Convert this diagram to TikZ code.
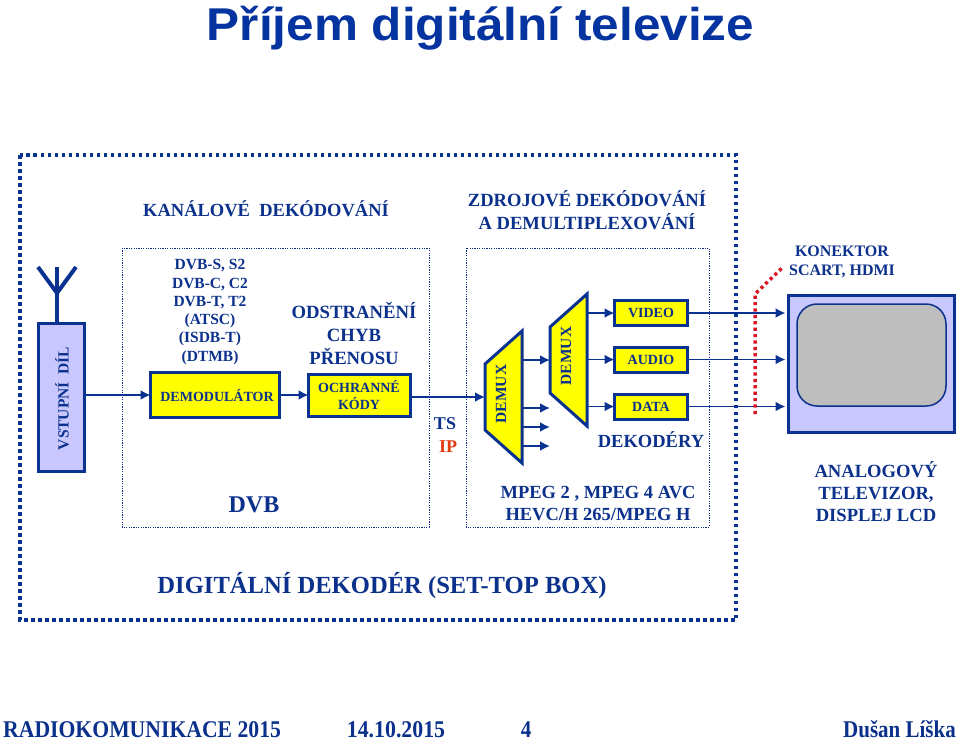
\documentclass[tikz,border=0pt]{standalone}
\usepackage{fontspec}
\setmainfont{Liberation Serif}
\newfontfamily\arialf{Liberation Sans}
\usetikzlibrary{arrows.meta}
\definecolor{navy}{HTML}{0A3291}
\definecolor{tnavy}{HTML}{0B318C}
\definecolor{ttl}{HTML}{0533A0}
\definecolor{lilac}{HTML}{C8C8FF}
\definecolor{yel}{HTML}{FFFF00}
\definecolor{scr}{HTML}{BEBEBE}
\definecolor{redd}{HTML}{D81828}
\definecolor{orng}{HTML}{E03A10}
\tikzset{
  x=1pt,y=-1pt,
  txt/.style={text=tnavy,font=\bfseries\fontsize{#1}{#1}\selectfont,align=center,inner sep=0pt},
  ybox/.style={draw=navy,fill=yel,line width=3pt,inner sep=0pt,outer sep=0pt},
  lilacbox/.style={draw=navy,fill=lilac,line width=3.2pt,inner sep=0pt,outer sep=0pt},
  demux/.style={draw=navy,fill=yel,line width=3pt,line join=miter},
  conn/.style={draw=navy,line width=1.9pt,-{Latex[length=10pt,width=10pt]}},
  outerdot/.style={draw=navy,line width=3.5pt,dash pattern=on 3.5pt off 3.5pt},
  innerdot/.style={draw=tnavy!90!black,line width=1pt,dash pattern=on 1.2pt off 1.2pt},
  foot/.style={inner sep=0pt,text depth=0pt,text=tnavy,font=\bfseries\fontsize{24}{24}\selectfont,xscale=#1},
}
\begin{document}
\begin{tikzpicture}
\useasboundingbox (0,0) rectangle (960,740);
% frames
\draw[outerdot] (20,155) rectangle (736,620);
\draw[innerdot] (122,248) rectangle (429,527);
\draw[innerdot] (466,248) rectangle (709,527);
% title
\node[inner sep=0pt,anchor=base,text=ttl,font=\arialf\bfseries\fontsize{46}{46}\selectfont,xscale=1.076] (title) at (480.5,40) {Příjem digitální televize};
% input
\node[lilacbox,minimum width=46pt,minimum height=148pt] (vd) at (61.5,397.5) {};
\node[txt=15.5,rotate=90] (vdt) at (62,398.5) {VSTUPNÍ\ \ DÍL};
\coordinate (anttop) at (57,267);
\coordinate (antjoin) at (57,293);
\coordinate (antl) at (38,267);
\coordinate (antr) at (76,267);
\draw[navy,line width=4pt] (vd.north -| antjoin) -- (anttop);
\draw[navy,line width=4pt] (antl) -- (antjoin) -- (antr);
% boxes
\node[ybox,minimum width=129pt,minimum height=45pt] (dem) at (215,395) {};
\node[txt=14] (demt) at (217,396) {DEMODULÁTOR};
\node[ybox,minimum width=102pt,minimum height=42pt] (och) at (359.5,395.5) {};
\node[txt=14] (ocht) at (359,395) {OCHRANNÉ\\[3pt]KÓDY};
\node[txt=15.5] (stds) at (210,312) {DVB-S, S2\\[2.8pt]DVB-C, C2\\[2.8pt]DVB-T, T2\\[2.8pt](ATSC)\\[2.8pt](ISDB-T)\\[2.8pt](DTMB)};
\node[txt=18.7] (odstr) at (354,333.5) {ODSTRANĚNÍ\\[4pt]CHYB\\[4pt]PŘENOSU};
\node[txt=18.5] (kan) at (266,209) {KANÁLOVÉ\ \ DEKÓDOVÁNÍ};
\node[txt=18.6] (zdr) at (587,210) {ZDROJOVÉ DEKÓDOVÁNÍ\\[4.4pt]A DEMULTIPLEXOVÁNÍ};
\node[txt=24] (dvb) at (254,505) {DVB};
\node[txt=18] (ts) at (445,424) {TS};
\node[txt=18,text=orng] (ip) at (448,447) {IP};
% demux
\draw[demux] (485,364) -- (522,331) -- (522,463) -- (485,430) -- cycle;
\node[txt=15.5,rotate=90] (d1) at (501,394) {DEMUX};
\draw[demux] (550,327) -- (587,294) -- (587,426) -- (550,393) -- cycle;
\node[txt=15.5,rotate=90] (d2) at (566,356) {DEMUX};
\coordinate (d1in) at (485,397);
\coordinate (d1o1) at (522,360);
\coordinate (d2in) at (550,360);
\coordinate (o2) at (550,408);
\coordinate (o3) at (550,427);
\coordinate (o4) at (550,446);
\coordinate (s2) at (522,408);
\coordinate (s3) at (522,427);
\coordinate (s4) at (522,446);
\coordinate (d2r) at (587,360);
% decoders
\node[ybox,minimum width=73pt,minimum height=25pt] (vid) at (651,313) {};
\node[txt=14] (vidt) at (651,313) {VIDEO};
\node[ybox,minimum width=73pt,minimum height=25pt] (aud) at (651,359.5) {};
\node[txt=14] (audt) at (651,359.5) {AUDIO};
\node[ybox,minimum width=73pt,minimum height=25pt] (dat) at (651,406.5) {};
\node[txt=14] (datt) at (651,406.5) {DATA};
\node[txt=18.5] (dek) at (651,440) {DEKODÉRY};
\node[txt=18.5] (mpeg) at (598,504) {MPEG 2 , MPEG 4 AVC\\[3.5pt]HEVC/H 265/MPEG H};
\node[txt=24.6] (dig) at (382,586) {DIGITÁLNÍ DEKODÉR (SET-TOP BOX)};
% monitor
\node[lilacbox,line width=3.4pt,minimum width=166pt,minimum height=137pt] (tv) at (871.5,364) {};
\node[draw=tnavy,fill=scr,line width=1.5pt,rounded corners=20pt,minimum width=149pt,minimum height=102pt,inner sep=0pt,outer sep=0pt] (scrn) at (871.5,355) {};
\node[txt=16] (kon) at (842,262) {KONEKTOR\\[3pt]SCART, HDMI};
\node[txt=18.6] (ana) at (876,492) {ANALOGOVÝ\\[3.4pt]TELEVIZOR,\\[3.4pt]DISPLEJ LCD};
% connectors
\draw[conn] (vd.east |- dem.west) -- (dem.west);
\draw[conn] (dem.east) -- (och.west |- dem.east);
\draw[conn] (och.east |- d1in) -- (d1in);
\draw[conn] (d1o1) -- (d2in);
\draw[conn] (s2) -- (o2);
\draw[conn] (s3) -- (o3);
\draw[conn] (s4) -- (o4);
\draw[conn] (vid.west -| d2r) -- (vid.west);
\draw[conn] (aud.west -| d2r) -- (aud.west);
\draw[conn] (dat.west -| d2r) -- (dat.west);
\draw[conn,shorten >=3pt] (vid.east) -- (vid.east -| tv.west);
\draw[conn,shorten >=3pt] (aud.east) -- (aud.east -| tv.west);
\draw[conn,shorten >=3pt] (dat.east) -- (dat.east -| tv.west);
% red connector marker
\coordinate (ra) at (755,414);
\coordinate (rb) at (755,294);
\coordinate (rc) at (782,268);
\draw[redd,line width=3.5pt,dash pattern=on 3.2pt off 3.2pt] (ra) -- (rb) -- (rc);
% footer
\node[foot=.904,anchor=base west] (f1) at (3,737) {RADIOKOMUNIKACE 2015};
\node[foot=.91,anchor=base] (f2) at (396,737) {14.10.2015};
\node[foot=.875,anchor=base] (f3) at (526,737) {4};
\node[foot=.875,anchor=base east] (f4) at (956,737) {Dušan Líška};
\end{tikzpicture}
\end{document}
